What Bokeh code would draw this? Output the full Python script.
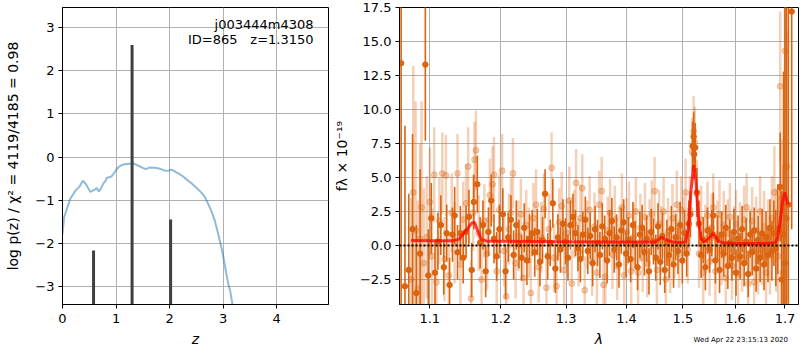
import numpy as np
from bokeh.plotting import figure
from bokeh.models import ColumnDataSource, FixedTicker, CustomJSTickFormatter, Label, Span, Div
from bokeh.layouts import row, column
from bokeh.embed import file_html
from bokeh.resources import INLINE

# ---------------- left panel: log p(z) ----------------
pz_z = [0.00, 0.03, 0.08, 0.14, 0.19, 0.24, 0.29, 0.33, 0.38, 0.44, 0.48, 0.52, 0.56, 0.60,
        0.64, 0.68, 0.72, 0.77, 0.80, 0.83, 0.88, 0.92, 0.96, 1.00, 1.05, 1.10, 1.14, 1.19,
        1.23, 1.28, 1.32, 1.36, 1.40, 1.45, 1.50, 1.56, 1.61, 1.66, 1.72, 1.78, 1.84, 1.90,
        1.95, 2.00, 2.03, 2.07, 2.12, 2.18, 2.24, 2.30, 2.36, 2.42, 2.48, 2.54, 2.60, 2.66,
        2.72, 2.78, 2.84, 2.90, 2.96, 3.01, 3.06, 3.10, 3.13, 3.18]
pz_logp = [-1.79, -1.40, -1.21, -0.98, -0.88, -0.78, -0.72, -0.66, -0.55, -0.63, -0.72, -0.81,
           -0.78, -0.76, -0.72, -0.80, -0.72, -0.60, -0.56, -0.48, -0.47, -0.44, -0.38, -0.30,
           -0.23, -0.19, -0.17, -0.16, -0.16, -0.15, -0.14, -0.17, -0.19, -0.22, -0.25, -0.28,
           -0.25, -0.24, -0.25, -0.26, -0.28, -0.31, -0.32, -0.31, -0.29, -0.31, -0.35, -0.39,
           -0.44, -0.50, -0.56, -0.62, -0.69, -0.76, -0.83, -0.93, -1.08, -1.25, -1.45, -1.74,
           -2.05, -2.34, -2.70, -2.96, -3.08, -3.45]
peak_z = [0.58, 1.30, 2.02]
peak_logp = [-2.17, 2.60, -1.45]
stem_base = -4.0

# ---------------- right panel: spectrum ----------------
# beam A (solid)
wa = [1.062, 1.067, 1.072, 1.077, 1.082, 1.087, 1.094, 1.098, 1.102, 1.107, 1.111, 1.115, 1.119,
      1.123, 1.127, 1.131, 1.134, 1.138, 1.142, 1.146, 1.150, 1.154, 1.158, 1.161, 1.166, 1.170,
      1.174, 1.178, 1.182, 1.186, 1.190, 1.194, 1.198, 1.203, 1.207, 1.211, 1.215, 1.219, 1.223,
      1.227, 1.231, 1.235, 1.239, 1.243, 1.247, 1.251, 1.255, 1.259, 1.263, 1.267, 1.271, 1.275,
      1.279, 1.283, 1.287, 1.291, 1.295, 1.299, 1.303, 1.307, 1.311, 1.315, 1.319, 1.323, 1.327,
      1.331, 1.335, 1.339, 1.343, 1.347, 1.351, 1.355, 1.359, 1.363, 1.367, 1.371, 1.375, 1.379,
      1.383, 1.387, 1.391, 1.395, 1.399, 1.403, 1.407, 1.411, 1.415, 1.419, 1.423, 1.427, 1.431,
      1.435, 1.439, 1.443, 1.447, 1.451, 1.455, 1.459, 1.463, 1.467, 1.471, 1.475, 1.479, 1.483,
      1.487, 1.491, 1.495, 1.499, 1.503, 1.507, 1.511, 1.514, 1.518, 1.520, 1.521, 1.523, 1.526,
      1.530, 1.534, 1.538, 1.542, 1.546, 1.550, 1.554, 1.557, 1.561, 1.565, 1.569, 1.573, 1.577,
      1.581, 1.585, 1.589, 1.593, 1.597, 1.601, 1.605, 1.609, 1.613, 1.617, 1.621, 1.625, 1.629,
      1.633, 1.637, 1.641, 1.645, 1.649, 1.653, 1.657, 1.661, 1.665, 1.669, 1.673, 1.677, 1.681,
      1.685, 1.690, 1.693, 1.697, 1.700, 1.703, 1.707, 1.714]
fa = [13.4, -3.0, -1.8, 1.2, -3.5, -0.6, 13.3, -2.2, 2.0, -2.0, 0.3, 1.5, -1.6,
      0.9, -2.9, 0.8, 2.2, -0.5, 0.9, -0.9, 1.0, 2.1, -1.8, 3.2, 4.5, 0.2,
      1.5, -1.9, 1.0, 3.3, 0.5, -0.8, 1.2, 2.3, -1.9, 0.6, 1.9, -0.7, 1.5,
      0.1, -0.9, 1.3, -1.1, 0.5, 0.9, -0.5, 1.0, -1.2, 0.4, 3.8, -0.8, 0.2,
      3.1, -1.7, 0.6, -0.3, 1.6, 0.3, -0.9, 1.5, 2.1, 0.9, -0.2, -1.0, 0.8,
      1.9, -0.4, 0.7, -1.3, 1.2, 0.2, -0.7, 1.4, 0.5, -1.1, 0.9, 1.8, -0.3,
      0.6, -1.4, 1.1, 1.7, -0.6, 0.4, -1.0, 1.5, 0.1, -1.6, 0.8, 1.3, -0.5,
      0.5, -1.9, 1.0, 0.3, -0.9, 1.4, -1.2, 0.7, -1.8, 0.2, -0.7, 1.2, -1.4,
      0.6, -0.4, 1.5, -1.1, 0.9, -0.6, 1.6, 2.3, 7.3, 8.0, 6.7, 7.2, 3.9,
      1.6, -0.7, 0.4, -1.6, 1.1, -0.3, 0.9, 2.2, -1.1, 0.5, -1.8, 0.8, -0.6,
      1.3, -1.5, 0.2, -0.9, 1.0, -2.0, 0.5, -0.8, 1.2, -1.3, 0.3, -2.1, 0.8,
      -0.5, 1.1, -1.7, 0.4, -0.9, 0.9, -1.4, 0.6, -0.7, 1.3, -0.4, 0.9, -0.2,
      1.2, 4.3, -2.5, 0.8, -1.3, 2.0, 3.0, 17.2]
ea = [20.0, 11.8, 5.6, 7.0, 5.0, 6.2, 5.6, 3.4, 2.6, 2.3, 2.1, 2.2, 2.0,
      2.1, 2.0, 2.0, 2.1, 2.0, 2.0, 1.9, 1.9, 2.0, 2.0, 2.0, 2.1, 1.9,
      1.8, 1.9, 1.8, 1.9, 1.8, 1.8, 1.8, 1.9, 2.0, 1.8, 1.8, 1.8, 1.8,
      1.8, 1.7, 1.8, 1.8, 1.8, 1.7, 1.8, 1.7, 1.8, 1.7, 1.8, 1.7, 1.7,
      1.8, 1.8, 1.7, 1.7, 1.8, 1.7, 1.7, 1.8, 1.7, 1.7, 1.7, 1.7, 1.7,
      1.7, 1.7, 1.7, 1.7, 1.7, 1.7, 1.7, 1.7, 1.7, 1.7, 1.7, 1.7, 1.7,
      1.7, 1.7, 1.7, 1.7, 1.7, 1.7, 1.7, 1.7, 1.7, 1.7, 1.7, 1.7, 1.7,
      1.7, 1.7, 1.7, 1.7, 1.7, 1.7, 1.7, 1.7, 1.7, 1.7, 1.7, 1.7, 1.7,
      1.7, 1.7, 1.7, 1.7, 1.7, 1.7, 1.7, 1.7, 1.8, 1.8, 1.8, 1.8, 1.8,
      1.7, 1.7, 1.7, 1.7, 1.7, 1.7, 1.7, 1.7, 1.7, 1.7, 1.7, 1.7, 1.7,
      1.7, 1.7, 1.7, 1.7, 1.7, 1.7, 1.7, 1.7, 1.7, 1.7, 1.7, 1.7, 1.7,
      1.7, 1.7, 1.7, 1.8, 1.8, 1.8, 1.9, 1.9, 2.0, 2.1, 2.2, 2.4, 2.8,
      3.3, 4.0, 6.5, 12.0, 20.0, 20.0, 14.5, 16.0]

# beam B (faint)
wb = [1.075, 1.078, 1.081, 1.084, 1.087, 1.089, 1.092, 1.096, 1.100, 1.103, 1.106, 1.109, 1.113,
      1.117, 1.120, 1.122, 1.126, 1.130, 1.134, 1.138, 1.142, 1.146, 1.150, 1.153, 1.157, 1.160,
      1.162, 1.164, 1.168, 1.172, 1.176, 1.180, 1.184, 1.188, 1.190, 1.194, 1.198, 1.202, 1.205,
      1.208, 1.212, 1.215, 1.218, 1.222, 1.226, 1.230, 1.234, 1.238, 1.242, 1.245, 1.249, 1.253,
      1.257, 1.261, 1.265, 1.269, 1.273, 1.277, 1.281, 1.285, 1.289, 1.293, 1.297, 1.301, 1.305,
      1.309, 1.313, 1.316, 1.320, 1.323, 1.326, 1.330, 1.334, 1.338, 1.342, 1.346, 1.350, 1.354,
      1.358, 1.361, 1.364, 1.368, 1.372, 1.376, 1.380, 1.384, 1.388, 1.392, 1.396, 1.400, 1.404,
      1.408, 1.412, 1.416, 1.420, 1.424, 1.428, 1.432, 1.436, 1.440, 1.444, 1.449, 1.453, 1.457,
      1.461, 1.465, 1.469, 1.473, 1.477, 1.481, 1.485, 1.489, 1.493, 1.497, 1.501, 1.505, 1.509,
      1.513, 1.517, 1.520, 1.522, 1.526, 1.530, 1.534, 1.538, 1.542, 1.546, 1.550, 1.554, 1.557,
      1.561, 1.565, 1.569, 1.573, 1.577, 1.581, 1.585, 1.589, 1.593, 1.597, 1.601, 1.605, 1.609,
      1.613, 1.617, 1.622, 1.625, 1.629, 1.633, 1.637, 1.641, 1.645, 1.649, 1.653, 1.657, 1.661,
      1.665, 1.669, 1.673, 1.678, 1.682, 1.686, 1.690, 1.693, 1.696, 1.700, 1.704]
fb = [-2.5, 3.9, 1.1, -3.2, 0.5, 2.8, -1.3, 0.6, 3.2, -0.8, 5.2, -2.7, 1.8,
      5.3, -1.0, 5.15, -2.2, 2.4, 0.2, 5.3, -1.4, 1.9, 3.1, 5.8, -3.9, 2.4,
      6.3, 7.0, 0.9, -2.5, 1.8, -0.6, 3.7, 4.5, 5.2, -1.9, 2.6, 5.5, -0.4,
      -3.75, 1.2, 2.4, 5.3, -1.3, 0.7, 2.3, -2.4, 1.5, 0.2, -3.5, 2.0, 3.0,
      -1.6, 0.6, 2.7, -3.1, 1.2, 5.7, -0.9, -3.0, 1.7, 2.9, -1.8, 0.9, 3.3,
      -2.8, 1.6, 4.6, -0.5, 2.0, 4.2, -3.3, 0.8, 2.6, -1.2, 1.4, -2.0, 3.0,
      4.0, -2.9, -2.3, 1.1, 2.4, -0.7, 1.9, -1.5, 0.3, 2.8, -2.2, 1.0, 2.2,
      -1.9, 0.6, 2.5, -2.0, 1.3, -0.9, 2.1, -1.3, 0.9, 2.3, 4.0, -1.8, 1.6,
      0.4, 2.5, -2.5, 1.0, -1.0, 2.0, 0.1, 3.0, -0.6, 2.6, 1.1, 3.9, -0.3,
      2.6, 6.9, 8.4, 7.6, 3.8, -0.6, 1.9, -2.0, 0.5, 2.2, -1.2, 1.3, 2.8,
      -1.9, 0.8, 2.3, -0.4, 1.5, -2.4, 0.9, 2.1, -1.5, 0.4, 1.6, -2.1, 0.7,
      -0.9, 1.9, 2.8, -2.8, 0.2, 1.8, -2.7, 1.1, -1.1, 2.5, -0.3, 1.4, -2.0,
      0.6, -0.7, 2.0, 3.9, 0.4, -0.8, 11.7, 1.3, -2.0, 14.3, 5.8]
eb = [6.0, 9.3, 9.5, 6.5, 7.0, 7.8, 5.5, 4.5, 4.0, 3.5, 3.5, 3.2, 3.2,
      3.0, 3.1, 3.0, 3.0, 2.9, 3.0, 2.9, 2.9, 2.8, 2.9, 2.9, 2.8, 2.8,
      2.8, 2.9, 2.8, 2.7, 2.7, 2.7, 2.7, 2.8, 2.8, 2.7, 2.7, 2.7, 2.6,
      2.7, 2.6, 2.6, 2.6, 2.6, 2.6, 2.6, 2.6, 2.6, 2.6, 2.6, 2.6, 2.6,
      2.6, 2.6, 2.6, 2.6, 2.6, 2.6, 2.5, 2.5, 2.5, 2.5, 2.5, 2.5, 2.5,
      2.5, 2.5, 2.5, 2.5, 2.5, 2.5, 2.5, 2.5, 2.5, 2.5, 2.5, 2.5, 2.5,
      2.5, 2.5, 2.5, 2.5, 2.5, 2.5, 2.5, 2.5, 2.5, 2.5, 2.5, 2.5, 2.5,
      2.5, 2.5, 2.5, 2.5, 2.5, 2.5, 2.5, 2.5, 2.5, 2.5, 2.5, 2.5, 2.5,
      2.5, 2.5, 2.5, 2.5, 2.5, 2.5, 2.5, 2.5, 2.5, 2.5, 2.5, 2.5, 2.5,
      2.5, 2.5, 2.6, 2.6, 2.5, 2.5, 2.5, 2.5, 2.5, 2.5, 2.5, 2.5, 2.5,
      2.5, 2.5, 2.5, 2.5, 2.5, 2.5, 2.5, 2.5, 2.5, 2.5, 2.5, 2.5, 2.5,
      2.5, 2.5, 2.5, 2.5, 2.5, 2.5, 2.5, 2.5, 2.5, 2.6, 2.6, 2.6, 2.7,
      2.8, 2.9, 3.1, 3.4, 3.8, 4.5, 5.5, 6.5, 8.0, 9.0, 10.0]

# best-fit model
model_wave = [1.075, 1.100, 1.130, 1.140, 1.150, 1.158, 1.162, 1.167, 1.172, 1.180, 1.250, 1.350,
              1.450, 1.456, 1.461, 1.468, 1.478, 1.495, 1.505, 1.510, 1.515, 1.520, 1.524, 1.529,
              1.534, 1.540, 1.548, 1.556, 1.561, 1.567, 1.576, 1.600, 1.650, 1.680, 1.685, 1.690,
              1.695, 1.699, 1.702, 1.706]
model_flux = [0.37, 0.35, 0.35, 0.45, 1.1, 1.65, 1.7, 1.0, 0.45, 0.32, 0.3, 0.25,
              0.25, 0.45, 0.6, 0.45, 0.3, 0.2, 0.25, 1.2, 4.0, 5.9, 4.8, 2.0,
              0.5, 0.25, 0.5, 0.88, 0.7, 0.3, 0.2, 0.15, 0.15, 0.2, 0.6, 1.8,
              3.2, 3.9, 3.6, 3.0]

lam_ticks = [1.1, 1.2, 1.3, 1.4, 1.5, 1.6, 1.7]
flux_ticks = [-2.5, 0.0, 2.5, 5.0, 7.5, 10.0, 12.5, 15.0, 17.5]
z_ticks = [0, 1, 2, 3, 4]
lnp_ticks = [-3, -2, -1, 0, 1, 2, 3]
timestamp = "Wed Apr 22 23:15:13 2020"

FONT = "DejaVu Sans"
ORANGE = "#da6410"
GRID = "#b0b0b0"


def style(p):
    p.outline_line_color = "black"
    p.outline_line_width = 1
    p.outline_line_alpha = 1
    for ax in (p.xaxis, p.yaxis):
        ax.axis_line_color = "black"
        ax.major_tick_out = 4
        ax.major_tick_in = 0
        ax.minor_tick_out = 0
        ax.minor_tick_in = 0
        ax.major_tick_line_color = "black"
        ax.major_label_text_font = FONT
        ax.major_label_text_font_size = "13px"
        ax.major_label_text_color = "black"
        ax.major_label_standoff = 4
        ax.axis_label_text_font = FONT
        ax.axis_label_text_font_size = "14px"
        ax.axis_label_text_color = "black"
    p.xaxis.major_label_standoff = 5
    p.xaxis.axis_label_standoff = 5
    p.xgrid.grid_line_color = GRID
    p.ygrid.grid_line_color = GRID
    p.xgrid.grid_line_width = 1
    p.ygrid.grid_line_width = 1


minus_fmt0 = CustomJSTickFormatter(code="return tick.toFixed(0).replace('-', '\\u2212');")
minus_fmt1 = CustomJSTickFormatter(code="return tick.toFixed(1).replace('-', '\\u2212');")

# ---------- left figure ----------
p1 = figure(width=330, height=350, x_range=(0, 4.97), y_range=(-3.42, 3.47),
            output_backend="svg", toolbar_location=None, title=None,
            min_border_left=62, min_border_right=2, min_border_top=7, min_border_bottom=46)
style(p1)
p1.xaxis.ticker = FixedTicker(ticks=z_ticks)
p1.yaxis.ticker = FixedTicker(ticks=lnp_ticks)
p1.xaxis.formatter = minus_fmt0
p1.yaxis.formatter = minus_fmt0
p1.xaxis.axis_label = "z"
p1.xaxis.axis_label_text_font_style = "italic"
p1.yaxis.axis_label = "log p(z) / χ² = 4119/4185 = 0.98"
p1.yaxis.axis_label_text_font_style = "normal"
p1.yaxis.axis_label_standoff = 11

p1.line(pz_z, pz_logp, line_color="#1f77b4", line_alpha=0.5, line_width=2)
p1.segment(x0=peak_z, y0=[stem_base] * len(peak_z), x1=peak_z, y1=peak_logp,
           line_color="#404040", line_width=3)

p1.add_layout(Label(x=4.69, y=3.08, text="j003444m4308", text_align="right",
                    text_baseline="middle", text_font=FONT, text_font_size="13px",
                    text_color="black"))
p1.add_layout(Label(x=3.27, y=2.73, text="ID=865", text_align="right",
                    text_baseline="middle", text_font=FONT, text_font_size="13px",
                    text_color="black"))
p1.add_layout(Label(x=4.69, y=2.73, text="z=1.3150", text_align="right",
                    text_baseline="middle", text_font=FONT, text_font_size="13px",
                    text_color="black"))

# ---------- right figure ----------
p2 = figure(width=470, height=350, x_axis_type="log", x_range=(1.0599, 1.7284),
            y_range=(-4.34, 17.5), output_backend="svg", toolbar_location=None, title=None,
            min_border_left=69, min_border_right=2, min_border_top=7, min_border_bottom=46)
style(p2)
p2.xaxis.ticker = FixedTicker(ticks=lam_ticks)
p2.yaxis.ticker = FixedTicker(ticks=flux_ticks)
p2.xaxis.formatter = minus_fmt1
p2.yaxis.formatter = minus_fmt1
p2.xaxis.axis_label = "λ"
p2.xaxis.axis_label_text_font_style = "italic"
p2.yaxis.axis_label = "fλ × 10⁻¹⁹"
p2.yaxis.axis_label_text_font_style = "normal"
p2.yaxis.axis_label_standoff = 7

wa_a, fa_a, ea_a = np.array(wa), np.array(fa), np.array(ea)
wb_a, fb_a, eb_a = np.array(wb), np.array(fb), np.array(eb)
src_a = ColumnDataSource(dict(w=wa_a, f=fa_a, lo=fa_a - ea_a, hi=fa_a + ea_a))
src_b = ColumnDataSource(dict(w=wb_a, f=fb_a, lo=fb_a - eb_a, hi=fb_a + eb_a))

p2.segment(x0="w", y0="lo", x1="w", y1="hi", source=src_b, line_color=ORANGE,
           line_alpha=0.3, line_width=2.5)
p2.scatter(x="w", y="f", source=src_b, size=6, fill_color=ORANGE, line_color=ORANGE,
           fill_alpha=0.3, line_alpha=0.3)
p2.segment(x0="w", y0="lo", x1="w", y1="hi", source=src_a, line_color=ORANGE,
           line_alpha=1.0, line_width=1.6)
p2.scatter(x="w", y="f", source=src_a, size=5.5, fill_color=ORANGE, line_color=ORANGE)

p2.line(model_wave, model_flux, line_color="red", line_alpha=0.75, line_width=3)
p2.add_layout(Span(location=0, dimension="width", line_color="black",
                   line_dash="2 2", line_width=2))

# timestamp text, pulled up over the bottom-right corner of the row
stamp = Div(text=timestamp, width=100, height=10, margin=(-15, 0, 0, 688),
            styles={"font-size": "7px", "font-family": "DejaVu Sans", "color": "black",
                    "line-height": "10px", "white-space": "nowrap", "text-align": "right"})

layout = column(row(p1, p2), stamp)
open("out.html", "w").write(file_html(layout, INLINE))
